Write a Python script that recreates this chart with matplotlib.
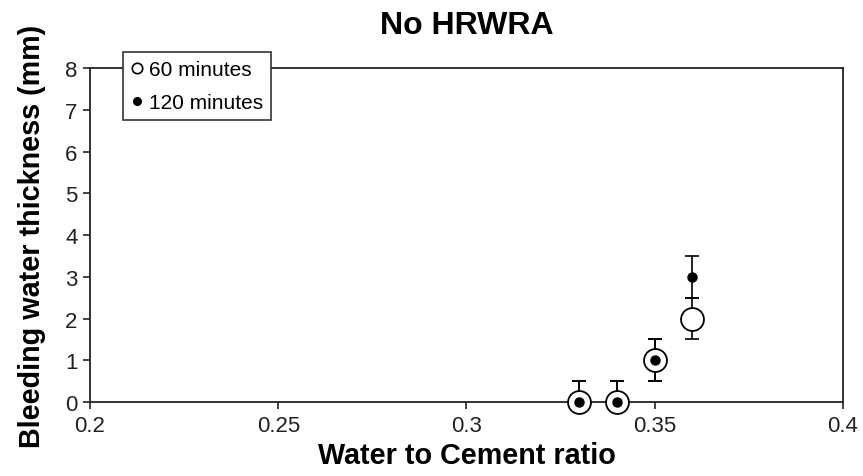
import matplotlib.pyplot as plt
from matplotlib.lines import Line2D

wc = [0.33, 0.34, 0.35, 0.36]
t60 = [0.0, 0.0, 1.0, 2.0]
t60_err = [0.5, 0.5, 0.5, 0.5]
t120 = [0.0, 0.0, 1.0, 3.0]
t120_err = [0.5, 0.5, 0.5, 0.5]
labels = ['60 minutes', '120 minutes']

plt.rcParams['font.family'] = ['Liberation Sans', 'DejaVu Sans']

fig = plt.figure(figsize=(8.63, 4.77), dpi=100)
ax = fig.add_axes([0.1043, 0.1551, 0.8725, 0.7002])

# error bars clipped at zero on the lower side
lo60 = [min(e, v) for v, e in zip(t60, t60_err)]
lo120 = [min(e, v) for v, e in zip(t120, t120_err)]
ax.errorbar(wc, t60, yerr=[lo60, t60_err], fmt='none', ecolor='black',
            elinewidth=1.2, capsize=4.7, capthick=1.2, zorder=2)
ax.errorbar(wc, t120, yerr=[lo120, t120_err], fmt='none', ecolor='black',
            elinewidth=1.2, capsize=4.7, capthick=1.2, zorder=2)
ax.plot(wc, t60, 'o', ms=16.5, mfc='white', mec='black', mew=1.3,
        zorder=3, clip_on=False)
ax.plot(wc, t120, 'o', ms=6.5, mfc='black', mec='black',
        zorder=4, clip_on=False)

ax.set_xlim(0.2, 0.4)
ax.set_ylim(0, 8)
ax.set_xticks([0.2, 0.25, 0.3, 0.35, 0.4])
ax.set_xticklabels(['0.2', '0.25', '0.3', '0.35', '0.4'])
ax.set_yticks(range(0, 9))
ax.tick_params(labelsize=16, direction='out', length=5, width=1.2, pad=4,
               colors='#222222', labelcolor='#222222')
for s in ax.spines.values():
    s.set_linewidth(1.3)
    s.set_color('#222222')

ax.set_title('No HRWRA', fontsize=23, fontweight='bold', pad=25)
ax.set_xlabel('Water to Cement ratio', fontsize=20.7, fontweight='bold', labelpad=4)
ax.set_ylabel('Bleeding water thickness (mm)', fontsize=20.7, fontweight='bold', labelpad=14)

hs = [Line2D([], [], marker='o', ls='none', ms=7.5, mfc='white', mec='black', mew=1.2),
      Line2D([], [], marker='o', ls='none', ms=5.5, mfc='black', mec='black')]
leg = ax.legend(hs, labels, loc='upper left', bbox_to_anchor=(0.0438, 1.048),
                borderaxespad=0, fontsize=15, frameon=True, fancybox=False,
                edgecolor='#333333', framealpha=1, handlelength=0.5,
                handletextpad=0.35, borderpad=0.4, labelspacing=0.65)
leg.get_frame().set_linewidth(1.2)

fig.savefig('out.png', dpi=100)
